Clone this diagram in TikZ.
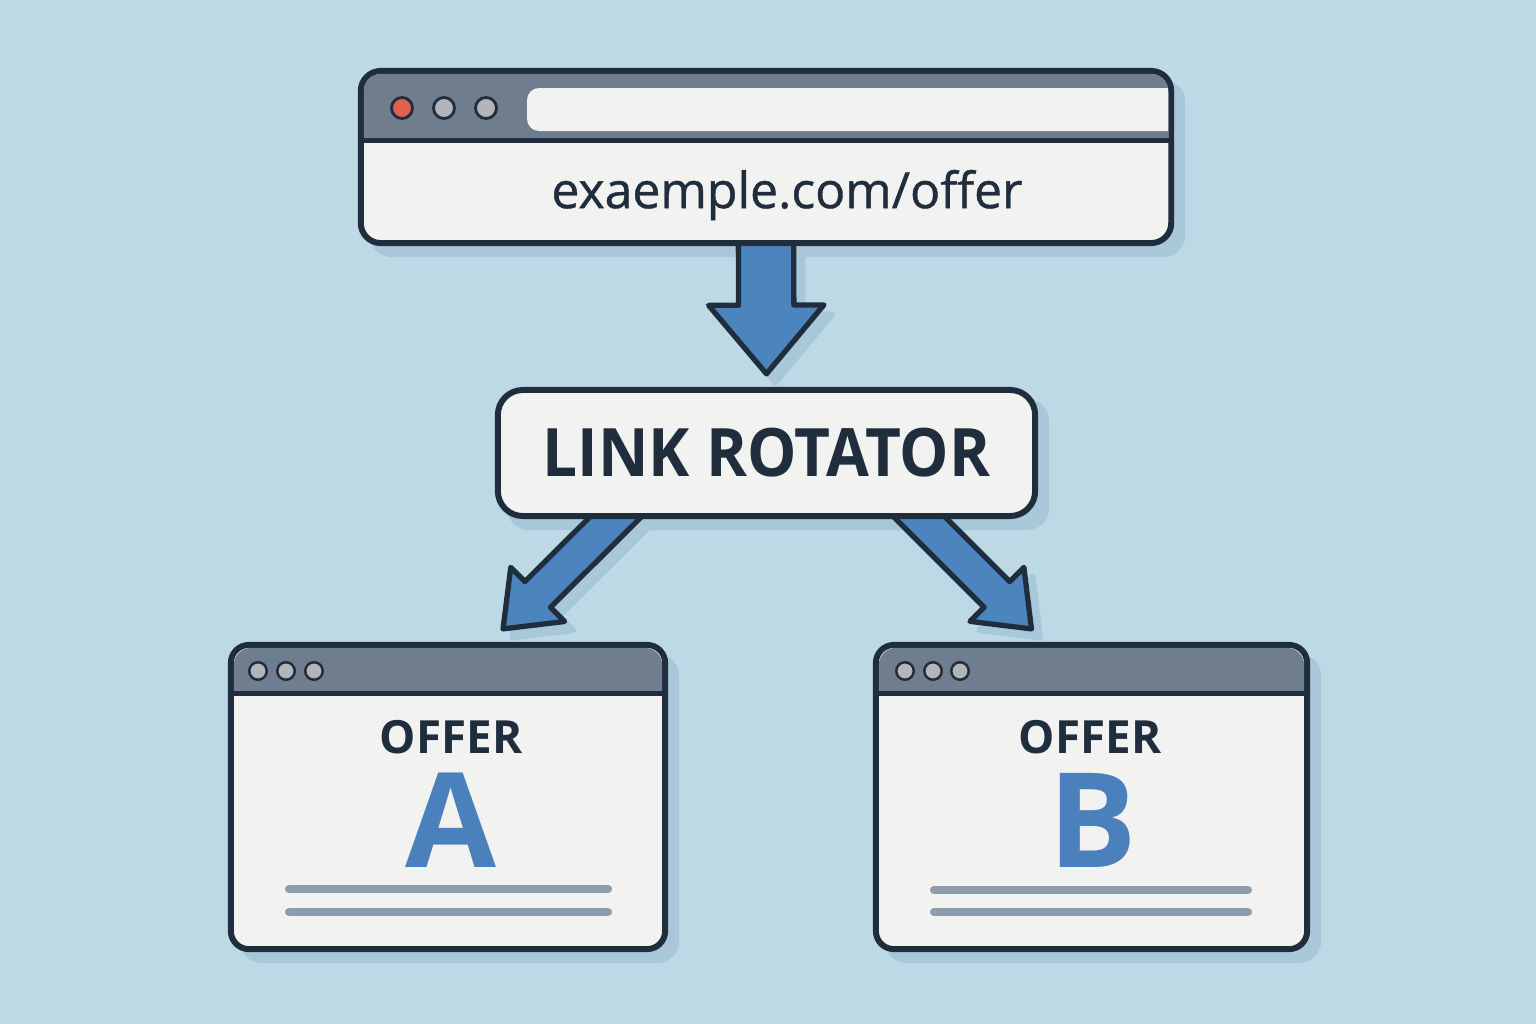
\documentclass[tikz,border=0pt]{standalone}
\usepackage{fontspec}
\setmainfont{Open Sans}
\newfontfamily\urlfont[FakeBold=0.8]{Open Sans}
\newfontfamily\narrowfont[FakeStretch=0.93]{Open Sans}
\usetikzlibrary{calc,shapes.arrows}

\definecolor{bgc}{HTML}{BDD9E5}
\definecolor{shadec}{HTML}{A8C8DA}
\definecolor{ink}{HTML}{1F2D3D}
\definecolor{paper}{HTML}{F2F2F0}
\definecolor{barc}{HTML}{6F7D8E}
\definecolor{arrowc}{HTML}{4C84BE}
\definecolor{lettc}{HTML}{4A80BB}
\definecolor{linec}{HTML}{8E9DAD}
\definecolor{dotred}{HTML}{DE6150}
\definecolor{dotgray}{HTML}{B3B5BA}

\pgfdeclarelayer{shade}
\pgfdeclarelayer{arrows}
\pgfsetlayers{shade,arrows,main}

\tikzset{
  win/.style={draw=ink, fill=paper, line width=1.7pt, rounded corners=0.2cm,
    outer sep=0pt, inner sep=0pt},
  dot/.style={circle, draw=ink, line width=0.8pt, inner sep=0pt},
  fatarrow/.style={single arrow, draw=ink, fill=arrowc, line width=1.5pt,
    line join=round, inner xsep=0pt, minimum width=0pt, sloped,
    allow upside down, pos=1, anchor=tip},
  downarrow/.style={inner ysep=0.25cm, single arrow head extend=0.3cm,
    single arrow tip angle=80},
  sidearrow/.style={inner ysep=0.155cm, single arrow head extend=0.2cm,
    single arrow tip angle=76},
  textline/.style={draw=linec, line width=2.3pt, line cap=round},
  offerlbl/.style={font=\fontsize{13pt}{15pt}\selectfont\bfseries, text=ink},
  letter/.style={font=\fontsize{37.5pt}{40pt}\selectfont\bfseries, text=lettc}
}

% title bar of a window node, #2 = depth of the bar
\newcommand\browserbar[2]{%
  \fill[barc] ($(#1.north west)+(3,#2)$) [rounded corners=0.17cm]
    -- ($(#1.north west)+(3,3)$) -- ($(#1.north east)+(-3,3)$) [sharp corners]
    -- ($(#1.north east)+(-3,#2)$) -- cycle;
  \draw[ink, line width=1.4pt] ($(#1.north west)+(0,#2)$) -- ($(#1.north east)+(0,#2)$);}
\newcommand\winshade[1]{%
  \fill[shadec, rounded corners=0.22cm] ($(#1.north west)+(9,9)$) rectangle ($(#1.south east)+(14,14)$);}
% fat arrow with its shadow
\newcommand\fatlink[4]{%
  \begin{pgfonlayer}{shade}
    \path ($(#1)+(9,9)$) -- ($(#2)+(9,9)$)
      node[fatarrow, #3, minimum height=#4, draw=shadec, fill=shadec] {};
  \end{pgfonlayer}
  \begin{pgfonlayer}{arrows}
    \path (#1) -- (#2) node[fatarrow, #3, minimum height=#4] {};
  \end{pgfonlayer}}

\begin{document}
\begin{tikzpicture}[x=0.01cm, y=-0.01cm]
\useasboundingbox (0,0) rectangle (1536,1024);
\begin{pgfonlayer}{shade}
\fill[bgc] (0,0) rectangle (1536,1024);
\end{pgfonlayer}

% browser with the link
\node[win, minimum width=8.1cm, minimum height=1.72cm] (url) at (766,157) {};
\browserbar{url}{70}
\fill[paper] (1168,88) [rounded corners=0.12cm] -- (527,88) -- (527,131) [sharp corners] -- (1168,131) -- cycle;
\foreach \x/\c [count=\i] in {402/dotred,444/dotgray,486/dotgray}
  \node[dot, fill=\c, minimum size=0.21cm] (ud\i) at (\x,108) {};
\node[text=ink, font=\fontsize{14.2pt}{17pt}\urlfont] (urltxt) at (787,195) {exaemple.com/offer};

% rotator
\node[win, rounded corners=0.25cm, minimum width=5.37cm, minimum height=1.26cm,
  text=ink, font=\fontsize{19pt}{22pt}\narrowfont\bfseries] (rot) at (766.5,453) {LINK ROTATOR};

% offer A
\node[win, rounded corners=0.18cm, minimum width=4.34cm, minimum height=3.04cm] (offA) at (448,797) {};
\browserbar{offA}{49}
\foreach \x [count=\i] in {258,286,314}
  \node[dot, fill=dotgray, minimum size=0.175cm, line width=0.7pt] (ad\i) at (\x,671) {};
\node[offerlbl] (offAt) at (451,737) {OFFER};
\node[letter] (offAl) at (451,820) {A};
\draw[textline] (289,889) -- (608,889);
\draw[textline] (289,912) -- (608,912);

% offer B
\node[win, rounded corners=0.18cm, minimum width=4.31cm, minimum height=3.04cm] (offB) at (1091.5,797) {};
\browserbar{offB}{49}
\foreach \x [count=\i] in {905,933,960}
  \node[dot, fill=dotgray, minimum size=0.175cm, line width=0.7pt] (bd\i) at (\x,671) {};
\node[offerlbl] (offBt) at (1090,737) {OFFER};
\node[letter] (offBl) at (1093,820) {B};
\draw[textline] (934,890) -- (1248,890);
\draw[textline] (934,912) -- (1248,912);

\begin{pgfonlayer}{shade}
\winshade{url} \winshade{rot} \winshade{offA} \winshade{offB}
\end{pgfonlayer}

% arrows
\coordinate (dtip) at ($(rot.north)+(0,-12)$);
\coordinate (ltail) at ($(rot.south)+(-150,0)$);
\coordinate (ltip) at ($(offA.north)+(52,-13)$);
\coordinate (rtail) at ($(rot.south)+(152,0)$);
\coordinate (rtip) at ($(offB.north)+(-57,-13)$);
\fatlink{url.south}{dtip}{downarrow}{1.48cm}
\fatlink{ltail}{ltip}{sidearrow}{1.84cm}
\fatlink{rtail}{rtip}{sidearrow}{1.85cm}
\end{tikzpicture}
\end{document}
